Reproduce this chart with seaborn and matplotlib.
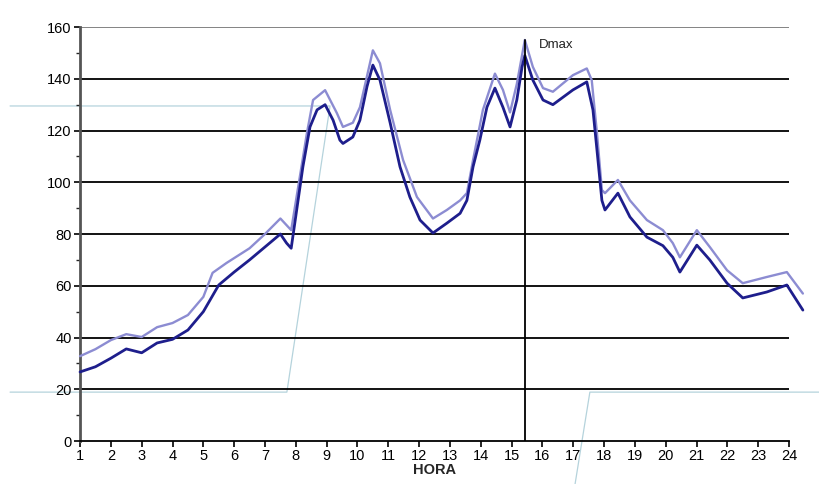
import numpy as np
import pandas as pd
import matplotlib
matplotlib.use("Agg")
import matplotlib.pyplot as plt
import seaborn as sns

# curva inferior (escura)
hora_a = [1.0, 1.5, 2.0, 2.5, 3.0, 3.5, 4.0, 4.5, 5.0, 5.5, 6.0, 6.5, 7.0, 7.5, 7.7,
          7.85, 8.23, 8.46, 8.69, 8.95, 9.21, 9.43, 9.53, 9.85, 10.08, 10.31, 10.5,
          10.73, 11.06, 11.38, 11.7, 12.03, 12.45, 12.9, 13.33, 13.55, 13.75, 13.97,
          14.2, 14.46, 14.72, 14.95, 15.17, 15.34, 15.43, 15.69, 16.02, 16.34, 16.99,
          17.44, 17.64, 17.77, 17.93, 18.03, 18.45, 18.84, 19.39, 19.91, 20.23, 20.46,
          21.01, 21.43, 21.99, 22.5, 23.28, 23.93, 24.45]
demanda_a = [26.7, 28.7, 32.0, 35.6, 34.1, 37.9, 39.3, 42.9, 50.0, 60.3, 65.3, 70.0, 75.0,
             80.0, 76.5, 74.5, 106, 121.4, 128, 130, 124, 116.3, 115, 117.5, 124, 137,
             145.3, 139.5, 123, 106, 94.3, 85.4, 80.4, 84.2, 88, 93, 106, 116.3, 129,
             136.4, 129, 121.4, 131.8, 144.6, 149, 139.5, 131.8, 130, 135.7, 138.8, 128,
             112.5, 93, 89.3, 95.8, 86.6, 78.8, 75.5, 71, 65.3, 75.7, 70, 61, 55.3, 57.6,
             60.3, 50.6]

# curva superior (clara)
hora_b = [1.0, 1.5, 2.0, 2.5, 3.0, 3.5, 4.0, 4.5, 5.0, 5.3, 5.75, 6.5, 7.0, 7.5, 7.85,
          8.36, 8.56, 8.95, 9.33, 9.53, 9.85, 10.08, 10.5, 10.73, 11.06, 11.48, 11.93,
          12.45, 12.9, 13.33, 13.55, 13.75, 14.07, 14.46, 14.72, 14.95, 15.17, 15.43,
          15.69, 16.02, 16.34, 16.99, 17.44, 17.6, 17.77, 17.93, 18.03, 18.45, 18.84,
          19.39, 19.91, 20.23, 20.46, 21.01, 21.43, 21.99, 22.5, 23.28, 23.93, 24.45]
demanda_b = [32.8, 35.5, 39.0, 41.3, 40.2, 44.0, 45.6, 48.7, 55.7, 65.0, 68.8, 74.5, 80,
             86, 81.5, 119, 131.8, 135.6, 126.8, 121.4, 123, 129, 151, 146, 128, 108.6,
             94.3, 86, 89.3, 93, 95.8, 108.6, 128, 142, 135.7, 127, 138, 155, 144.6,
             136.4, 135, 141.4, 144, 139.5, 119, 97, 95.8, 100.9, 93, 85.4, 81.5, 76.5,
             71, 81.5, 75, 66, 61, 63.4, 65.3, 57]

# linha azul clara de fundo (fora do eixo)
fundo_x1 = [-1.27, 7.71, 9.11, -1.27]
fundo_y1 = [18.9, 18.9, 129.5, 129.5]
fundo_x2 = [17.06, 17.54, 25.0]
fundo_y2 = [-16.6, 18.9, 18.9]

dmax_hora = 15.43
dmax_valor = 155

sns.set_theme(style="white")
plt.rcParams['font.family'] = ['Liberation Sans', 'DejaVu Sans']

fig = plt.figure(figsize=(8.2, 4.84), dpi=100)
ax = fig.add_axes([0.0976, 0.0888, 0.8646, 0.8553])

for y in range(20, 161, 20):
    ax.axhline(y, color="#7a7a7a" if y == 160 else "black", lw=1.3, zorder=1)

ax.plot(fundo_x1, fundo_y1, color="#b5d3dc", lw=0.9, zorder=0, clip_on=False)
ax.plot(fundo_x2, fundo_y2, color="#b5d3dc", lw=0.9, zorder=0, clip_on=False)

sns.lineplot(x=hora_b, y=demanda_b, ax=ax, color="#8c8cd2", lw=1.7, sort=False,
             zorder=3, clip_on=False, solid_joinstyle="round", solid_capstyle="round")
sns.lineplot(x=hora_a, y=demanda_a, ax=ax, color="#1e1e8c", lw=2.0, sort=False,
             zorder=4, clip_on=False, solid_joinstyle="round", solid_capstyle="round")

ax.plot([dmax_hora, dmax_hora], [0, dmax_valor], color="black", lw=1.3, zorder=5)
ax.text(dmax_hora + 0.45, dmax_valor - 3, "Dmax", fontsize=9.5, color="#222222")

ax.set_xlim(1, 24)
ax.set_ylim(0, 160)
ax.set_xticks(range(1, 25))
ax.set_yticks(range(0, 161, 20))
ax.set_yticks(range(10, 160, 20), minor=True)
ax.tick_params(axis="both", which="major", direction="out", length=4, width=1.2,
               labelsize=10.5, pad=2, colors="black")
ax.tick_params(axis="y", which="minor", direction="out", length=3, width=1, left=True)
ax.tick_params(axis="x", bottom=True)
ax.tick_params(axis="y", left=True)
ax.set_xlabel("HORA", fontsize=10.5, fontweight="bold", labelpad=0)
ax.set_ylabel("")

for s in ["top", "right"]:
    ax.spines[s].set_visible(False)
ax.spines["left"].set_color("#555555")
ax.spines["left"].set_linewidth(2)
ax.spines["bottom"].set_color("black")
ax.spines["bottom"].set_linewidth(1.3)

fig.savefig("out.png", dpi=100)
